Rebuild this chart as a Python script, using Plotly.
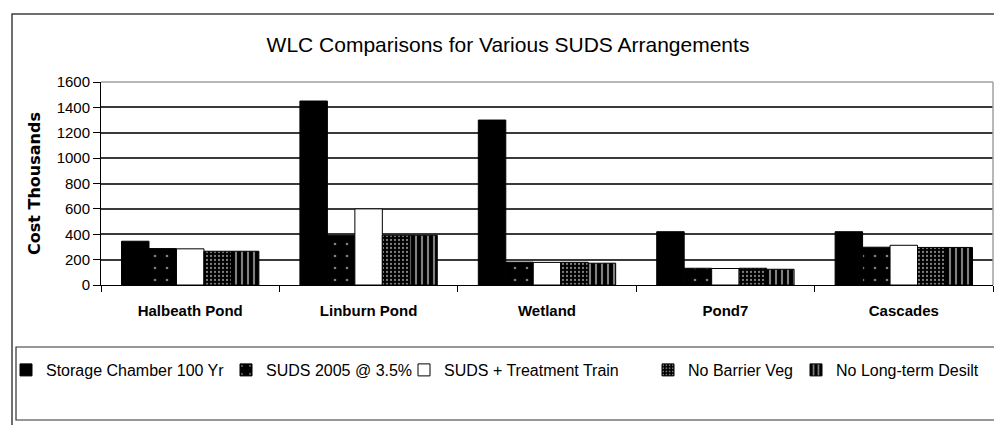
import plotly.graph_objects as go

categories = ["Halbeath Pond", "Linburn Pond", "Wetland", "Pond7", "Cascades"]
series_names = [
    "Storage Chamber 100 Yr",
    "SUDS 2005 @ 3.5%",
    "SUDS + Treatment Train",
    "No Barrier Veg",
    "No Long-term Desilt",
]
storage_chamber = [345, 1450, 1300, 420, 420]
suds_2005 = [287, 392, 180, 132, 298]
treatment_train = [285, 600, 178, 130, 313]
no_barrier_veg = [266, 392, 179, 132, 296]
no_desilt = [266, 392, 172, 124, 296]
y_ticks = [0, 200, 400, 600, 800, 1000, 1200, 1400, 1600]

values = [storage_chamber, suds_2005, treatment_train, no_barrier_veg, no_desilt]

W, H = 994, 425
L, R, T, B = 101, 1, 82, 140
PW = W - L - R
PH = H - T - B


def px_x(px):
    return (px - L) / PW


def px_y(py):
    return (H - B - py) / PH


patterns = [
    dict(shape=""),
    dict(shape=".", bgcolor="black", fgcolor="white", size=12, solidity=0.04),
    dict(shape=""),
    dict(shape=".", bgcolor="black", fgcolor="white", size=4, solidity=0.25),
    dict(shape="|", bgcolor="black", fgcolor="white", size=6, solidity=0.35),
]
colors = ["black", "black", "white", "black", "black"]
legend_text_starts = [46, 266, 444, 688, 836]
legend_ids = ["legend", "legend2", "legend3", "legend4", "legend5"]

fig = go.Figure()
for i, (name, vals) in enumerate(zip(series_names, values)):
    fig.add_trace(go.Bar(
        x=categories, y=vals, name=name,
        marker=dict(color=colors[i], line=dict(color="black", width=1),
                    pattern=patterns[i]),
        legend=legend_ids[i],
    ))

base_font = "Liberation Sans, Arial, sans-serif"
layout_legends = {}
for i, lid in enumerate(legend_ids):
    layout_legends[lid] = dict(
        x=px_x(legend_text_starts[i] - 40), xanchor="left",
        y=px_y(370), yanchor="middle",
        orientation="h", bgcolor="rgba(0,0,0,0)",
        font=dict(family=base_font, size=16, color="black"),
        itemwidth=30,
    )

fig.update_layout(
    width=W, height=H,
    margin=dict(l=L, r=R, t=T, b=B, autoexpand=False),
    paper_bgcolor="white", plot_bgcolor="white",
    barmode="group", bargap=0.23, bargroupgap=0,
    title=dict(text="WLC Comparisons for Various SUDS Arrangements",
               x=508 / W, xref="container", xanchor="center",
               y=1 - 45 / H, yref="container", yanchor="middle",
               font=dict(family=base_font, size=21, color="black")),
    showlegend=True,
    **layout_legends,
)

fig.update_xaxes(
    tickson="boundaries", ticks="outside", ticklen=6, tickcolor="black",
    showline=True, linecolor="black", linewidth=1,
    tickfont=dict(family=base_font, size=15, color="black", weight="bold"),
    ticklabelstandoff=12,
)
fig.update_yaxes(
    range=[0, 1600], tickvals=y_ticks,
    ticks="outside", ticklen=7, tickcolor="black",
    showline=True, linecolor="black", linewidth=1,
    showgrid=True, gridcolor="#3a3a3a", gridwidth=1.5,
    zeroline=False,
    tickfont=dict(family=base_font, size=15, color="black"),
    title=dict(text="Cost Thousands", standoff=12,
               font=dict(family="DejaVu Sans, sans-serif", size=16,
                         color="black", weight="bold")),
)

# plot-area border (top and right, gray)
fig.add_shape(type="line", xref="paper", yref="paper", x0=0, x1=1, y0=1, y1=1,
              line=dict(color="#a0a0a0", width=1.5))
fig.add_shape(type="line", xref="paper", yref="paper", x0=1, x1=1, y0=0, y1=1,
              line=dict(color="#a0a0a0", width=1.5))
# outer chart border
fig.add_shape(type="rect", xref="paper", yref="paper",
              x0=px_x(12), x1=px_x(1010), y0=px_y(14), y1=px_y(440),
              line=dict(color="#404040", width=1.5))
# legend box
fig.add_shape(type="rect", xref="paper", yref="paper",
              x0=px_x(16), x1=px_x(1010), y0=px_y(347), y1=px_y(420),
              line=dict(color="#303030", width=1.2))

fig.write_html(
    "out.html",
    config={"displayModeBar": False},
    post_script="document.body.style.margin='0';document.body.style.overflow='hidden';",
)
